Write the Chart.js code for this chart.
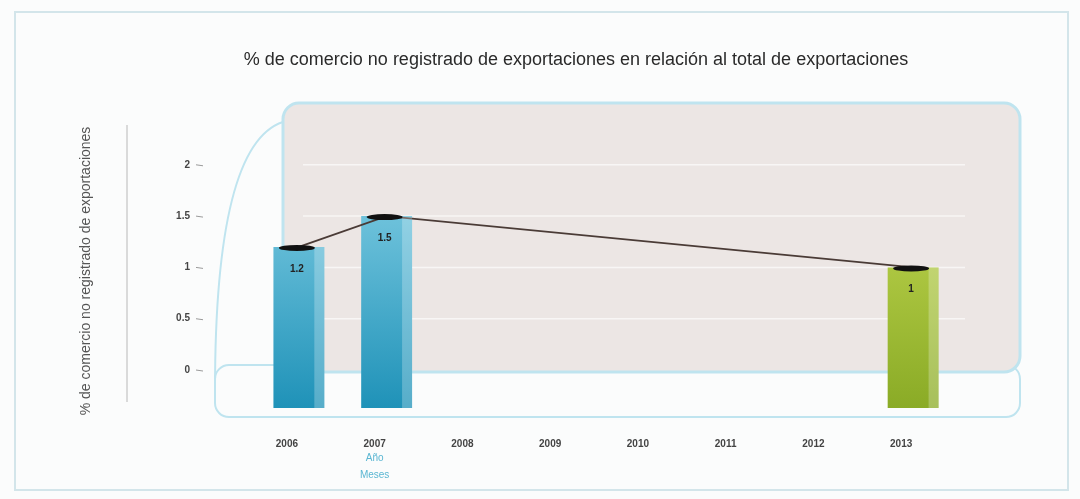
<!DOCTYPE html>
<html>
<head>
<meta charset="utf-8">
<script src="https://cdn.jsdelivr.net/npm/chart.js@4"></script>
<style>
  html, body { margin: 0; padding: 0; background: #fbfcfc; }
  #wrap { width: 1080px; height: 499px; position: relative; }
</style>
</head>
<body>
<div id="wrap"><canvas id="c" width="1080" height="499"></canvas></div>
<script>
// chart data
const chartTitle = '% de comercio no registrado de exportaciones en relación al total de exportaciones';
const years = ['2006', '2007', '2008', '2009', '2010', '2011', '2012', '2013'];
const barValues = [1.2, 1.5, null, null, null, null, null, 1];
const barLabels = ['1.2', '1.5', '', '', '', '', '', '1'];
const lineValues = [1.2, 1.5, null, null, null, null, null, 1];
const yTicks = [0, 0.5, 1, 1.5, 2];
const blue = ['#8fd6ea', '#1f92b8'];
const green = ['#cde05a', '#8aab26'];
const SHIFT = 12; // bars sit a little right of their labels (3D look)

const font = '"Liberation Sans", Arial, sans-serif';

// draws the 3D-ish wall, frame, caps, labels, title
const decor = {
  id: 'decor',
  beforeDraw(chart) {
    const c = chart.ctx, a = chart.chartArea, y = chart.scales.y;
    c.save();
    // outer frame
    c.strokeStyle = '#d3e5ea'; c.lineWidth = 2;
    c.strokeRect(15, 12, 1053, 478);
    // title (off-centre, like the original)
    c.fillStyle = '#2a2a2a';
    c.font = '18px ' + font;
    c.textAlign = 'center'; c.textBaseline = 'middle';
    c.fillText(chartTitle, 576, 60);
    // floor / side outline
    const y0 = y.getPixelForValue(0);
    c.strokeStyle = '#bfe4ef'; c.lineWidth = 2;
    c.beginPath();
    c.roundRect(a.left - 28, y0 - 5, a.right + 75 - (a.left - 28), 52, 14);
    c.stroke();
    c.beginPath();
    c.moveTo(a.left + 40, a.top - 12);
    c.quadraticCurveTo(a.left - 28, a.top + 10, a.left - 28, y0 + 20);
    c.stroke();
    // back wall
    c.fillStyle = '#ece6e4';
    c.strokeStyle = '#bfe4ef'; c.lineWidth = 3;
    c.beginPath();
    c.roundRect(a.left + 40, a.top - 31, a.right + 75 - (a.left + 40), y0 + 2 - (a.top - 31), 16);
    c.fill(); c.stroke();
    // grid lines on wall
    c.strokeStyle = '#f8f6f5'; c.lineWidth = 1.5;
    yTicks.forEach(v => {
      if (v === 0) return;
      const py = y.getPixelForValue(v);
      c.beginPath(); c.moveTo(a.left + 60, py); c.lineTo(a.right + 20, py); c.stroke();
    });
    // small tick dashes by labels
    c.strokeStyle = '#9a9a9a'; c.lineWidth = 1;
    yTicks.forEach(v => {
      const py = y.getPixelForValue(v);
      c.beginPath(); c.moveTo(a.left - 47, py); c.lineTo(a.left - 40, py + 1); c.stroke();
    });
    // vertical rule next to axis title
    c.strokeStyle = '#b8b8b8';
    c.beginPath(); c.moveTo(127, 125); c.lineTo(127, 402); c.stroke();
    c.restore();
  },
  beforeDatasetsDraw(chart) {
    chart.ctx.save();
    chart.ctx.translate(SHIFT, 0);
  },
  afterDatasetsDraw(chart) {
    const c = chart.ctx;
    const bars = chart.getDatasetMeta(1).data;
    bars.forEach((b, i) => {
      if (barValues[i] == null) return;
      // right side shade
      c.fillStyle = 'rgba(255,255,255,0.25)';
      c.fillRect(b.x + b.width / 2 - 10, b.y, 10, b.base - b.y);
      // dark cap
      c.fillStyle = '#111';
      c.beginPath();
      c.ellipse(b.x - 2, b.y + 1, 18, 3, 0, 0, Math.PI * 2);
      c.fill();
      c.fillStyle = '#222';
      c.font = 'bold 10px ' + font;
      c.textAlign = 'center'; c.textBaseline = 'middle';
      c.fillText(barLabels[i], b.x - 2, b.y + 22);
    });
    c.restore();
    // axis title under 2007
    c.save();
    const x = chart.scales.x.getPixelForValue(1);
    c.fillStyle = '#5ab6d2';
    c.font = '10px ' + font;
    c.textAlign = 'center';
    c.fillText('Año', x, 461);
    c.fillText('Meses', x, 478);
    c.restore();
  }
};

function grad(chart, cols) {
  const a = chart.chartArea;
  if (!a) return cols[1];
  const g = chart.ctx.createLinearGradient(0, a.top, 0, a.bottom);
  g.addColorStop(0, cols[0]);
  g.addColorStop(1, cols[1]);
  return g;
}

new Chart(document.getElementById('c'), {
  data: {
    labels: years,
    datasets: [
      {
        type: 'line',
        data: lineValues,
        borderColor: '#4a3b36',
        borderWidth: 1.8,
        pointRadius: 0,
        spanGaps: true,
        tension: 0,
        order: 0
      },
      {
        type: 'bar',
        data: barValues,
        base: -0.37,
        backgroundColor: ctx => grad(ctx.chart, ctx.dataIndex === 7 ? green : blue),
        barPercentage: 0.58,
        categoryPercentage: 1,
        order: 1
      }
    ]
  },
  options: {
    responsive: false,
    animation: false,
    layout: { padding: { left: 78, right: 135, top: 134, bottom: 0 } },
    plugins: {
      legend: { display: false },
      tooltip: { enabled: false },
      title: { display: false }
    },
    scales: {
      x: {
        grid: { display: false },
        border: { display: false },
        ticks: {
          color: '#444', padding: 22,
          font: { family: font, size: 10, weight: 'bold' }
        },
        afterFit: s => { s.height = 91; }
      },
      y: {
        min: -0.37,
        max: 2.3,
        afterBuildTicks: s => { s.ticks = yTicks.map(v => ({ value: v })); },
        grid: { display: false, drawTicks: false },
        border: { display: false },
        ticks: {
          color: '#444', padding: 53,
          callback: v => String(v),
          font: { family: font, size: 10, weight: 'bold' }
        },
        title: {
          display: true,
          text: '% de comercio no registrado de exportaciones',
          color: '#555',
          padding: 0,
          font: { family: font, size: 14 }
        },
        afterFit: s => { s.width = 165; }
      }
    }
  },
  plugins: [decor]
});
</script>
</body>
</html>
